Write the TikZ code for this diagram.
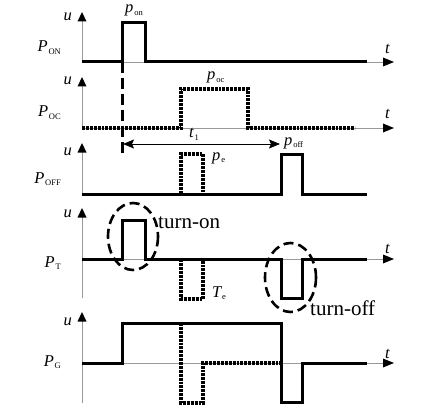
\documentclass[tikz,border=0pt]{standalone}
\usepackage{fontspec}
\setmainfont{Liberation Serif}
\usetikzlibrary{arrows.meta}
\newcommand\mysig[2]{{\fontsize{16.5}{16.5}\selectfont\itshape #1}\kern0.8pt\raisebox{-2.5pt}{\fontsize{8.5}{8.5}\selectfont #2}}
\newcommand\uhead[2]{\fill[black] (#1,#2) -- ++(-4.5,9.5) -- ++(9,0) -- cycle;}
\newcommand\thead[2]{\fill[black] (#1,#2) -- ++(-11,-4.5) -- ++(0,9) -- cycle;}
\begin{document}
\begin{tikzpicture}[x=1pt,y=-1pt,
  axisline/.style={draw=black!40, line width=0.8pt},
  sig/.style={line width=3pt, line join=miter, line cap=butt},
  dotsig/.style={line width=3.2pt, dash pattern=on 2.9pt off 1.0pt},
  lbl/.style={inner sep=0pt, anchor=base east},
  lblw/.style={inner sep=0pt, anchor=base west},
  ulbl/.style={inner sep=0pt, anchor=base east, font=\fontsize{16.5}{16.5}\selectfont\itshape},
  tlbl/.style={inner sep=0pt, anchor=base west, font=\fontsize{16.5}{16.5}\selectfont\itshape},
  ring/.style={line width=2.6pt, dash pattern=on 10pt off 5pt},
  word/.style={inner sep=0pt, anchor=base west, font=\fontsize{21}{21}\selectfont}
]
\useasboundingbox[fill=white] (0,0) rectangle (444,417);

% Panel 1: P_ON
\draw[axisline] (82,62) -- (82,15);
\uhead{82}{12}
\draw[axisline] (82,62) -- (388,62);
\thead{394}{62}
\draw[sig] (82,62) -- (122,62) -- (122,23) -- (145,23) -- (145,62) -- (367,62);
\node[lbl] (pon) at (61,52) {\mysig{P}{ON}};
\node[ulbl] (u1) at (72,21) {u};
\node[tlbl] (t1) at (385,54) {t};
\node[lblw] (pon2) at (125,13) {\mysig{p}{on}};

% Panel 2: P_OC
\draw[axisline] (82,128) -- (82,80);
\uhead{82}{77}
\draw[axisline] (82,128) -- (388,128);
\thead{394}{128}
\draw[dotsig] (82,128) -- (181,128) -- (181,89) -- (248,89) -- (248,128) -- (355,128);
\node[lbl] (poc) at (61,117) {\mysig{P}{OC}};
\node[ulbl] (u2) at (72,85) {u};
\node[tlbl] (t2) at (385,118) {t};
\node[lblw] (poc2) at (207,80) {\mysig{p}{oc}};

% Panel 3: P_OFF
\draw[axisline] (82,194) -- (82,146);
\uhead{82}{143}
\draw[sig] (82,194) -- (281,194) -- (281,154) -- (302,154) -- (302,194) -- (367,194);
\draw[dotsig] (181,194) -- (181,154) -- (203,154) -- (203,194);
\node[lbl] (poff) at (61,183) {\mysig{P}{OFF}};
\node[ulbl] (u3) at (72,155) {u};
\node[lblw] (pe) at (212,160) {\mysig{p}{e}};
\node[lblw] (poff2) at (284,145) {\mysig{p}{off}};

% t1 interval and dashed marker
\coordinate (ta) at (123,144);
\coordinate (tb) at (280,144);
\draw[line width=0.8pt, {Stealth[length=11pt,width=9pt,inset=2pt]}-{Stealth[length=11pt,width=9pt,inset=2pt]}] (ta) -- (tb);
\node[lblw] (tone) at (189,138) {\mysig{t}{1}};
\draw[line width=3pt, dash pattern=on 11pt off 5pt] (122,62) -- (122,156);

% Panel 4: P_T
\draw[axisline] (82,298) -- (82,211);
\uhead{82}{208}
\draw[axisline] (82,259) -- (388,259);
\thead{394}{259}
\draw[sig] (82,259) -- (122,259) -- (122,220) -- (145,220) -- (145,259) -- (281,259) -- (281,298) -- (302,298) -- (302,259) -- (367,259);
\draw[dotsig] (181,259) -- (181,299) -- (203,299) -- (203,259);
\node[lbl] (pt) at (61,267) {\mysig{P}{T}};
\node[ulbl] (u4) at (72,217) {u};
\node[tlbl] (t4) at (385,253) {t};
\node[lblw] (te) at (212,297) {\mysig{T}{e}};
\draw[ring] (133,236.5) ellipse [x radius=25, y radius=33.5];
\draw[ring] (290.5,277.5) ellipse [x radius=25.5, y radius=34.5];
\node[word] (ton) at (158,228) {turn-on};
\node[word] (toff) at (310,315) {turn-off};

% Panel 5: P_G
\draw[axisline] (82,403) -- (82,315);
\uhead{82}{312}
\draw[axisline] (82,363) -- (388,363);
\thead{394}{363}
\draw[sig] (82,363) -- (122,363) -- (122,323) -- (281,323) -- (281,402) -- (302,402) -- (302,363) -- (367,363);
\draw[dotsig] (181,323) -- (181,403) -- (203,403) -- (203,363) -- (281,363);
\node[lbl] (pg) at (61,366) {\mysig{P}{G}};
\node[ulbl] (u5) at (72,325) {u};
\node[tlbl] (t5) at (385,358) {t};
\end{tikzpicture}
\end{document}
